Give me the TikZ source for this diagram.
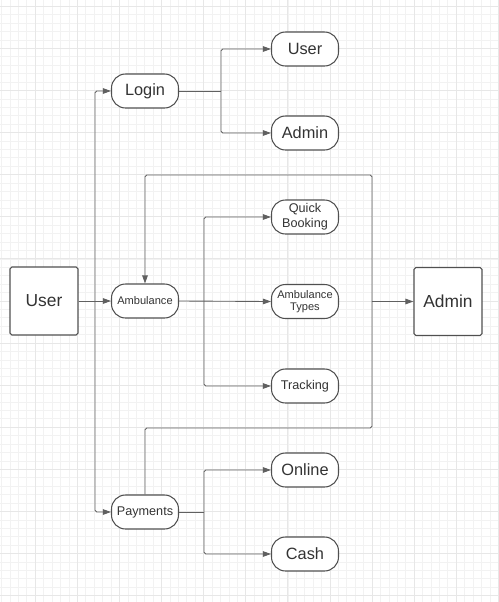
\documentclass[tikz,border=0pt]{standalone}
\usepackage{fontspec}
\setmainfont{Liberation Sans}
\usepackage{tikz}
\usetikzlibrary{arrows.meta}

\definecolor{bordo}{HTML}{505050}
\definecolor{linea}{HTML}{606060}
\definecolor{testo}{HTML}{333333}

\tikzset{
    pill/.style={draw=bordo, line width=0.6pt, rounded corners=0.28cm, fill=white,
        minimum width=1.34cm, minimum height=0.68cm, inner sep=0pt, text=testo, align=center},
    quadro/.style={draw=bordo, line width=0.6pt, rounded corners=1pt, fill=white,
        minimum width=1.36cm, minimum height=1.36cm, inner sep=0pt, text=testo},
    filo/.style={draw=linea, line width=0.5pt, rounded corners=1pt},
    freccia/.style={filo, -{Triangle[length=1.6mm, width=1.1mm]}},
    grigliafine/.style={draw=gray!10, line width=0.45pt},
    grigliagrossa/.style={draw=gray!19, line width=0.55pt}
}

\newcommand{\grande}{\fontsize{9.9}{12}\selectfont}
\newcommand{\medio}{\fontsize{9.3}{11}\selectfont}
\newcommand{\piccolo}{\fontsize{7.2}{8.5}\selectfont}
\newcommand{\minimo}{\fontsize{6.3}{7.2}\selectfont}

\begin{document}
\begin{tikzpicture}[x=0.02cm, y=-0.02cm]
        \useasboundingbox (0,0) rectangle (499,602);
        \fill[white] (0,0) rectangle (499,602);

        % Griglia di sfondo
        \foreach \i in {0,...,59} {
            \draw[grigliafine] ({1.62+8.42*\i},0) -- ({1.62+8.42*\i},602);
        }
        \foreach \j in {0,...,71} {
            \draw[grigliafine] (0,{6.3+8.42*\j}) -- (499,{6.3+8.42*\j});
        }
        \foreach \i in {0,...,11} {
            \draw[grigliagrossa] ({35.3+42.1*\i},0) -- ({35.3+42.1*\i},602);
        }
        \foreach \j in {0,...,14} {
            \draw[grigliagrossa] (0,{6.3+42.1*\j}) -- (499,{6.3+42.1*\j});
        }

        % Attori
        \node[quadro, font=\grande] (utente) at (44,301) {User};
        \node[quadro, font=\grande] (amministratore) at (448,301.5) {Admin};

        % Moduli principali
        \node[pill, font=\medio] (login) at (145,91) {Login};
        \node[pill, font=\minimo] (ambulanza) at (145,301) {Ambulance};
        \node[pill, font=\piccolo] (pagamenti) at (145,512) {Payments};

        % Sottomoduli
        \node[pill, font=\medio] (login_user) at (305,49) {User};
        \node[pill, font=\medio] (login_admin) at (305,133) {Admin};
        \node[pill, font=\piccolo] (prenotazione) at (305,217) {Quick\\Booking};
        \node[pill, font=\minimo] (tipi) at (305,301.5) {Ambulance\\Types};
        \node[pill, font=\piccolo] (tracciamento) at (305,386) {Tracking};
        \node[pill, font=\medio] (online) at (305,470) {Online};
        \node[pill, font=\medio] (contanti) at (305,554) {Cash};

        % Punti di diramazione
        \coordinate (split_utente) at (95,301);
        \coordinate (split_login) at (221,91);
        \coordinate (split_ambulanza) at (204,301);
        \coordinate (split_pagamenti) at (204,512);
        \coordinate (anello_sud) at (372,428);
        \coordinate (anello_nord) at (372,175);

        % Frecce
        \draw[freccia] (utente.east) -- (ambulanza.west);
        \draw[freccia] (split_utente) |- (login.west);
        \draw[freccia] (split_utente) |- (pagamenti.west);

        \draw[filo] (login.east) -- (split_login);
        \draw[freccia] (split_login) |- (login_user.west);
        \draw[freccia] (split_login) |- (login_admin.west);

        \draw[freccia] (ambulanza.east) -- (tipi.west);
        \draw[freccia] (split_ambulanza) |- (prenotazione.west);
        \draw[freccia] (split_ambulanza) |- (tracciamento.west);

        \draw[filo] (pagamenti.east) -- (split_pagamenti);
        \draw[freccia] (split_pagamenti) |- (online.west);
        \draw[freccia] (split_pagamenti) |- (contanti.west);

        \draw[freccia] (pagamenti.north) |- (anello_sud) -- (anello_nord) -| (ambulanza.north);
        \draw[freccia] (anello_nord |- amministratore) -- (amministratore.west);
    \end{tikzpicture}
\end{document}
